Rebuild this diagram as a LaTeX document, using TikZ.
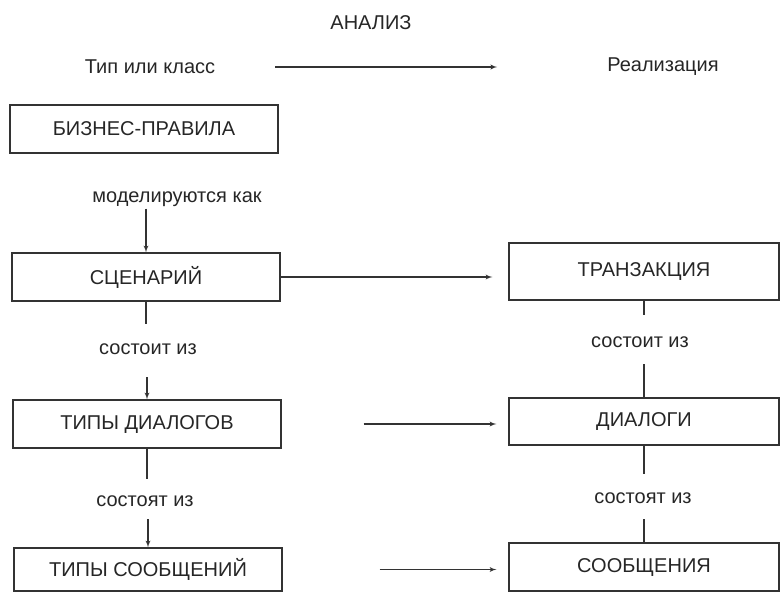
\documentclass[tikz,border=0pt]{standalone}
\usepackage{fontspec}
\setmainfont{Liberation Sans}
\usepackage{tikz}
\usetikzlibrary{arrows}

\tikzset{
  caja/.style={draw=black!80, line width=1.3pt, minimum width=268pt, minimum height=48pt, inner sep=0pt, text=black!85},
  texto/.style={inner sep=2pt, text=black!85},
  linea/.style={draw=black!80, line width=1.3pt},
  flecha/.style={linea, -latex'}
}

\begin{document}
\begin{tikzpicture}[x=1pt,y=-1pt,font=\fontsize{20}{24}\selectfont]
%marco de la figura
\useasboundingbox (0,0) rectangle (783,592);

%titulos
\node[texto] (anal) at (371,23) {АНАЛИЗ};
\node[texto] (tipo) at (150,67) {Тип или класс};
\node[texto] (real) at (663,67) {Реализация};
\draw [flecha, shorten <=58pt, shorten >=108pt] (tipo.east) -- (real.west);

%cajas de la izquierda
\node[caja] (biz) at (144,129) {БИЗНЕС-ПРАВИЛА};
\node[caja] (scen) at (146,277) {СЦЕНАРИЙ};
\node[caja] (dlgtipo) at (147,424) {ТИПЫ ДИАЛОГОВ};
\node[caja, minimum height=43pt] (msgtipo) at (148,569.5) {ТИПЫ СООБЩЕНИЙ};

%cajas de la derecha
\node[caja, minimum width=270pt, minimum height=57pt] (trans) at (644,271.5) {ТРАНЗАКЦИЯ};
\node[caja, minimum width=270pt, minimum height=47pt] (dlg) at (644,421.5) {ДИАЛОГИ};
\node[caja, minimum width=270pt] (msg) at (644,567) {СООБЩЕНИЯ};

%etiquetas de la izquierda
\node[texto] (model) at (177,199) {моделируются как};
\node[texto] (cons1) at (148,349) {состоит из};
\node[texto] (cons2) at (145,501) {состоят из};

%etiquetas de la derecha
\node[texto] (cons3) at (640,342) {состоит из};
\node[texto] (cons4) at (643,498) {состоят из};

%lineas verticales izquierda
\draw [flecha] (scen.north |- model.south) -- (scen.north);
\draw [linea] (scen.south) -- ++(0,22);
\draw [flecha] (dlgtipo.north) ++(0,-22) -- (dlgtipo.north);
\draw [linea] (dlgtipo.south) -- ++(0,30);
\draw [flecha] (msgtipo.north) ++(0,-28) -- (msgtipo.north);

%lineas verticales derecha
\draw [linea] (trans.south) -- ++(0,14);
\draw [linea] (dlg.north) ++(0,-33) -- (dlg.north);
\draw [linea] (dlg.south) -- ++(0,28);
\draw [linea] (msg.north) ++(0,-23) -- (msg.north);

%flechas horizontales
\draw [flecha, shorten >=16pt] (scen.east) -- (scen.east -| trans.west);
\draw [flecha, shorten <=82pt, shorten >=12pt] (dlgtipo.east) -- (dlgtipo.east -| dlg.west);
\draw [flecha, shorten <=97pt, shorten >=12pt] (msgtipo.east) -- (msgtipo.east -| msg.west);
\end{tikzpicture}
\end{document}
